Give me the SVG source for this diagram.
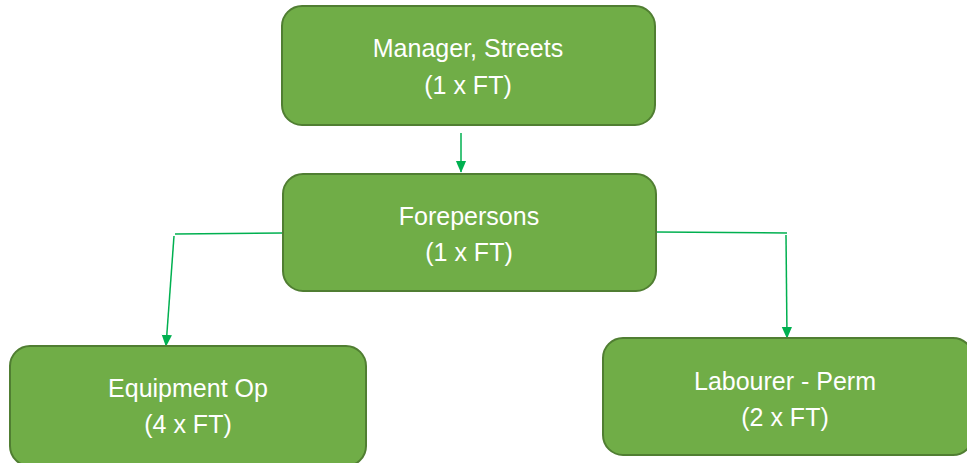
<svg xmlns="http://www.w3.org/2000/svg" width="967" height="463" viewBox="0 0 967 463">
<style>
.box{fill:#70AD47;stroke:#507E32;stroke-width:2}
.t{fill:#FFFFFF;font-family:"Liberation Sans",Arial,sans-serif;font-size:25px;text-anchor:middle}
.c{fill:none;stroke:#00B050;stroke-width:1.5}
</style>
<defs>
<marker id="ah" markerWidth="12" markerHeight="14" viewBox="0 0 14 12" refX="13" refY="6" orient="auto" markerUnits="userSpaceOnUse">
<path d="M0,0 L14,6 L0,12 Z" fill="#00B050"/>
</marker>
</defs>
<rect width="967" height="463" fill="#FFFFFF"/>
<g id="connectors">
<path class="c" d="M461,133 L461,172" marker-end="url(#ah)"/>
<path class="c" d="M283,233 L175,234"/>
<path class="c" d="M174,236 L166,346" marker-end="url(#ah)"/>
<path class="c" d="M656,232 L787,233"/>
<path class="c" d="M786,235 L787,338" marker-end="url(#ah)"/>
</g>
<g id="manager">
<rect class="box" x="282" y="6" width="373" height="119" rx="20"/>
<text class="t" x="468" y="57">Manager, Streets</text>
<text class="t" x="468" y="94">(1 x FT)</text>
</g>
<g id="forepersons">
<rect class="box" x="283" y="174" width="373" height="117" rx="20"/>
<text class="t" x="469" y="225">Forepersons</text>
<text class="t" x="469" y="261">(1 x FT)</text>
</g>
<g id="equipment">
<rect class="box" x="10" y="346" width="356" height="120" rx="20"/>
<text class="t" x="188" y="397">Equipment Op</text>
<text class="t" x="188" y="433">(4 x FT)</text>
</g>
<g id="labourer">
<rect class="box" x="603" y="338" width="370" height="117" rx="20"/>
<text class="t" x="785" y="390">Labourer - Perm</text>
<text class="t" x="785" y="426">(2 x FT)</text>
</g>
</svg>
